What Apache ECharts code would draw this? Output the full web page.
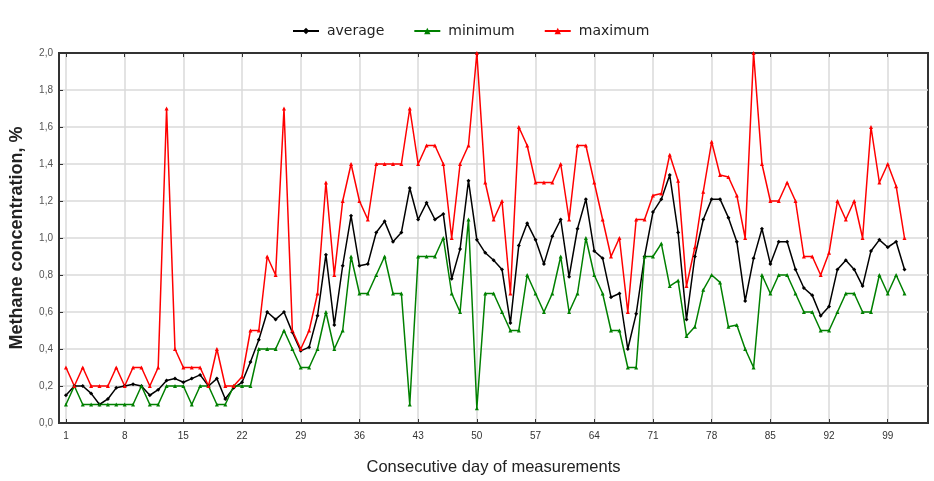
<!DOCTYPE html>
<html>
<head>
<meta charset="utf-8">
<script src="https://cdn.jsdelivr.net/npm/echarts@6/dist/echarts.min.js"></script>
<style>
html,body{margin:0;padding:0;background:#fff;}
#chart{width:934px;height:481px;}
</style>
</head>
<body>
<div id="chart"></div>
<script>
const days = Array.from({length: 101}, (_, i) => i + 1);
const xTickDays = [1, 8, 15, 22, 29, 36, 43, 50, 57, 64, 71, 78, 85, 92, 99];
const average = [
  0.15, 0.2, 0.2, 0.16, 0.1, 0.13, 0.19, 0.2, 0.21, 0.2,
  0.15, 0.18, 0.23, 0.24, 0.22, 0.24, 0.26, 0.2, 0.24, 0.13,
  0.19, 0.22, 0.33, 0.45, 0.6, 0.56, 0.6, 0.49, 0.39, 0.41,
  0.58, 0.91, 0.53, 0.85, 1.12, 0.85, 0.86, 1.03, 1.09, 0.98,
  1.03, 1.27, 1.1, 1.19, 1.1, 1.13, 0.78, 0.94, 1.31, 0.99,
  0.92, 0.88, 0.83, 0.54, 0.96, 1.08, 0.99, 0.86, 1.01, 1.1,
  0.79, 1.05, 1.21, 0.93, 0.89, 0.68, 0.7, 0.4, 0.59, 0.9,
  1.14, 1.21, 1.34, 1.03, 0.56, 0.9, 1.1, 1.21, 1.21, 1.11,
  0.98, 0.66, 0.89, 1.05, 0.86, 0.98, 0.98, 0.83, 0.73, 0.69,
  0.58, 0.63, 0.83, 0.88, 0.83, 0.74, 0.93, 0.99, 0.95, 0.98,
  0.83
];
const minimum = [
  0.1, 0.2, 0.1, 0.1, 0.1, 0.1, 0.1, 0.1, 0.1, 0.2,
  0.1, 0.1, 0.2, 0.2, 0.2, 0.1, 0.2, 0.2, 0.1, 0.1,
  0.2, 0.2, 0.2, 0.4, 0.4, 0.4, 0.5, 0.4, 0.3, 0.3,
  0.4, 0.6, 0.4, 0.5, 0.9, 0.7, 0.7, 0.8, 0.9, 0.7,
  0.7, 0.1, 0.9, 0.9, 0.9, 1.0, 0.7, 0.6, 1.1, 0.08,
  0.7, 0.7, 0.6, 0.5, 0.5, 0.8, 0.7, 0.6, 0.7, 0.9,
  0.6, 0.7, 1.0, 0.8, 0.7, 0.5, 0.5, 0.3, 0.3, 0.9,
  0.9, 0.97, 0.74, 0.77, 0.47, 0.52, 0.72, 0.8, 0.76, 0.52,
  0.53, 0.4, 0.3, 0.8, 0.7, 0.8, 0.8, 0.7, 0.6, 0.6,
  0.5, 0.5, 0.6, 0.7, 0.7, 0.6, 0.6, 0.8, 0.7, 0.8,
  0.7
];
const maximum = [
  0.3, 0.2, 0.3, 0.2, 0.2, 0.2, 0.3, 0.2, 0.3, 0.3,
  0.2, 0.3, 1.7, 0.4, 0.3, 0.3, 0.3, 0.2, 0.4, 0.2,
  0.2, 0.25, 0.5, 0.5, 0.9, 0.8, 1.7, 0.5, 0.4, 0.5,
  0.7, 1.3, 0.8, 1.2, 1.4, 1.2, 1.1, 1.4, 1.4, 1.4,
  1.4, 1.7, 1.4, 1.5, 1.5, 1.4, 1.0, 1.4, 1.5, 2.0,
  1.3, 1.1, 1.2, 0.7, 1.6, 1.5, 1.3, 1.3, 1.3, 1.4,
  1.1, 1.5, 1.5, 1.3, 1.1, 0.9, 1.0, 0.6, 1.1, 1.1,
  1.23, 1.24, 1.45, 1.31, 0.74, 0.95, 1.25, 1.52, 1.34, 1.33,
  1.23, 1.0, 2.0, 1.4, 1.2, 1.2, 1.3, 1.2, 0.9, 0.9,
  0.8, 0.92, 1.2, 1.1, 1.2, 1.0, 1.6, 1.3, 1.4, 1.28,
  1.0
];

const chart = echarts.init(document.getElementById('chart'), null, {renderer: 'canvas'});
const font = 'Liberation Sans, Arial, sans-serif';
const pair = arr => days.map((d, i) => [d, arr[i]]);
function mk(name, color, arr, sym) {
  return {
    name: name, type: 'line', data: pair(arr),
    symbol: sym, symbolSize: 4, showSymbol: true,
    lineStyle: {color: color, width: 1.5},
    itemStyle: {color: color},
    emphasis: {disabled: true},
    animation: false
  };
}
const option = {
  backgroundColor: '#fff',
  animation: false,
  textStyle: {fontFamily: font},
  legend: {
    top: 19, left: 287,
    itemWidth: 26, itemHeight: 8, itemGap: 29,
    textStyle: {fontSize: 14, color: '#222', fontFamily: 'DejaVu Sans', padding: [0, 0, 0, 3]},
    data: ['average', 'minimum', 'maximum']
  },
  grid: {left: 55, right: 6, top: 53, bottom: 58, show: true, borderColor: '#333', borderWidth: 2, containLabel: false},
  xAxis: [{
    type: 'value', min: 0.17, max: 103.8,
    name: 'Consecutive day of measurements',
    nameLocation: 'middle', nameGap: 36,
    nameTextStyle: {fontSize: 16.5, color: '#222', fontFamily: font},
    axisLine: {show: true, lineStyle: {color: '#333', width: 2}},
    axisTick: {show: true, inside: true, length: 4, customValues: xTickDays, lineStyle: {color: '#333'}},
    axisLabel: {customValues: xTickDays, fontSize: 10, color: '#333', margin: 8, fontFamily: font},
    splitLine: {show: true, lineStyle: {color: '#dadada', width: 1.5}}
  }, {
    type: 'value', min: 0.17, max: 103.8, position: 'top',
    axisLine: {show: true, lineStyle: {color: '#333', width: 2}},
    axisTick: {show: true, inside: true, length: 4, customValues: xTickDays, lineStyle: {color: '#333'}},
    axisLabel: {show: false},
    splitLine: {show: false}
  }],
  yAxis: {
    type: 'value', min: 0, max: 2, interval: 0.2,
    name: 'Methane concentration, %',
    nameLocation: 'middle', nameGap: 33, nameRotate: 90,
    nameTextStyle: {fontSize: 18, fontWeight: 'bold', color: '#222', fontFamily: font},
    axisLine: {show: true, lineStyle: {color: '#333', width: 2}},
    axisTick: {show: true, inside: true, length: 4, lineStyle: {color: '#333'}},
    axisLabel: {fontSize: 10, color: '#555', margin: 6, fontFamily: font,
      formatter: v => v.toFixed(1).replace('.', ',')},
    splitLine: {show: true, lineStyle: {color: '#dadada', width: 1.5}}
  },
  series: [
    mk('average', '#000000', average, 'diamond'),
    mk('minimum', '#008000', minimum, 'triangle'),
    mk('maximum', '#ff0000', maximum, 'triangle')
  ]
};
chart.setOption(option);
</script>
</body>
</html>
